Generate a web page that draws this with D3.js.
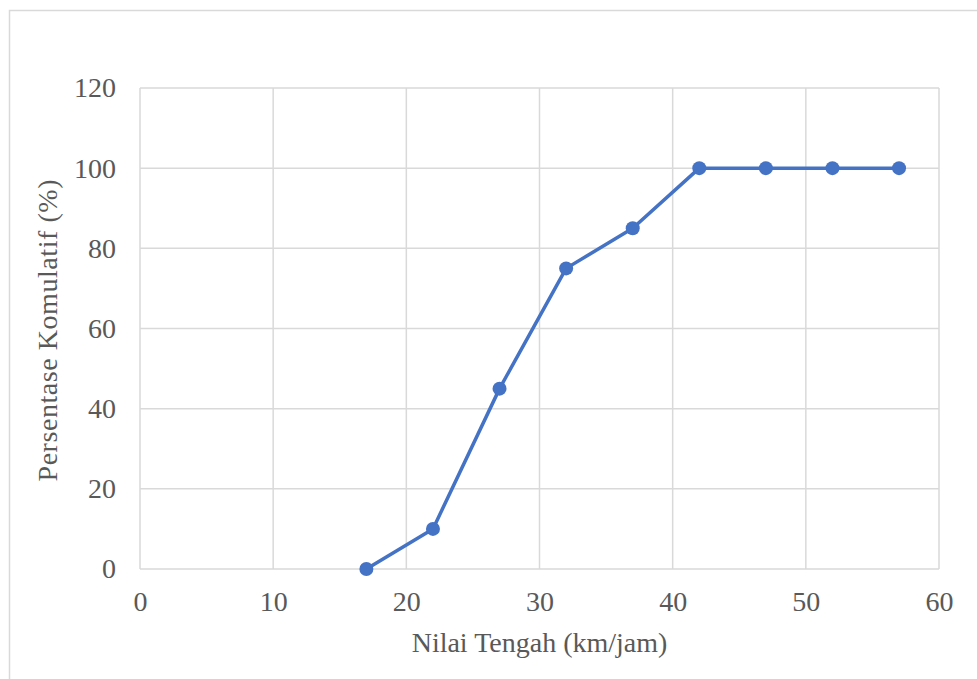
<!DOCTYPE html>
<html>
<head>
<meta charset="utf-8">
<script src="https://cdn.jsdelivr.net/npm/d3@7"></script>
<style>
  html, body { margin: 0; padding: 0; background: #fff; }
  svg { display: block; font-family: "Liberation Serif", serif; }
  svg text { font-family: "Liberation Serif", serif; }
</style>
</head>
<body>
<svg id="chart" width="977" height="679"></svg>
<script>
const xValues = [17, 22, 27, 32, 37, 42, 47, 52, 57];
const yValues = [0, 10, 45, 75, 85, 100, 100, 100, 100];
const xTicks = [0, 10, 20, 30, 40, 50, 60];
const yTicks = [0, 20, 40, 60, 80, 100, 120];
const xTitle = "Nilai Tengah (km/jam)";
const yTitle = "Persentase Komulatif (%)";

const svg = d3.select("#chart");
const W = 977, H = 679;
const font = "Liberation Serif";
const textColor = "#595959";
const gridColor = "#d9d9d9";
const lineColor = "#4472C4";

svg.append("rect").attr("x", 9.5).attr("y", 10.5).attr("width", W + 20).attr("height", H + 20)
  .attr("fill", "#fff").attr("stroke", gridColor).attr("stroke-width", 1.5);

const plot = { left: 140, right: 939, top: 88, bottom: 569 };
const x = d3.scaleLinear().domain([0, 60]).range([plot.left, plot.right]);
const y = d3.scaleLinear().domain([0, 120]).range([plot.bottom, plot.top]);

svg.append("g").selectAll("line").data(xTicks).join("line")
  .attr("x1", d => x(d)).attr("x2", d => x(d))
  .attr("y1", plot.top).attr("y2", plot.bottom)
  .attr("stroke", gridColor).attr("stroke-width", 1.5);
svg.append("g").selectAll("line").data(yTicks).join("line")
  .attr("x1", plot.left).attr("x2", plot.right)
  .attr("y1", d => y(d)).attr("y2", d => y(d))
  .attr("stroke", gridColor).attr("stroke-width", 1.5);

const xAxis = svg.append("g").attr("transform", `translate(0,${plot.bottom})`)
  .call(d3.axisBottom(x).tickValues(xTicks).tickSize(0).tickPadding(22));
const yAxis = svg.append("g").attr("transform", `translate(${plot.left},0)`)
  .call(d3.axisLeft(y).tickValues(yTicks).tickSize(0).tickPadding(24));
[xAxis, yAxis].forEach(g => {
  g.attr("font-family", font).attr("font-size", 28);
  g.select(".domain").remove();
  g.selectAll("text").attr("fill", textColor);
});

svg.append("text").attr("x", (plot.left + plot.right) / 2).attr("y", 652)
  .attr("text-anchor", "middle").attr("fill", textColor)
  .attr("font-family", font).attr("font-size", 28).text(xTitle);
svg.append("text").attr("transform", `translate(57,${(plot.top + plot.bottom) / 2 + 2}) rotate(-90)`)
  .attr("text-anchor", "middle").attr("fill", textColor)
  .attr("font-family", font).attr("font-size", 28)
  .attr("textLength", 302).attr("lengthAdjust", "spacing").text(yTitle);

const data = xValues.map((v, i) => ({ x: v, y: yValues[i] }));
svg.append("path").datum(data)
  .attr("fill", "none").attr("stroke", lineColor).attr("stroke-width", 3.5)
  .attr("stroke-linejoin", "round")
  .attr("d", d3.line().x(d => x(d.x)).y(d => y(d.y)));
svg.append("g").selectAll("circle").data(data).join("circle")
  .attr("cx", d => x(d.x)).attr("cy", d => y(d.y)).attr("r", 7)
  .attr("fill", lineColor);
</script>
</body>
</html>
